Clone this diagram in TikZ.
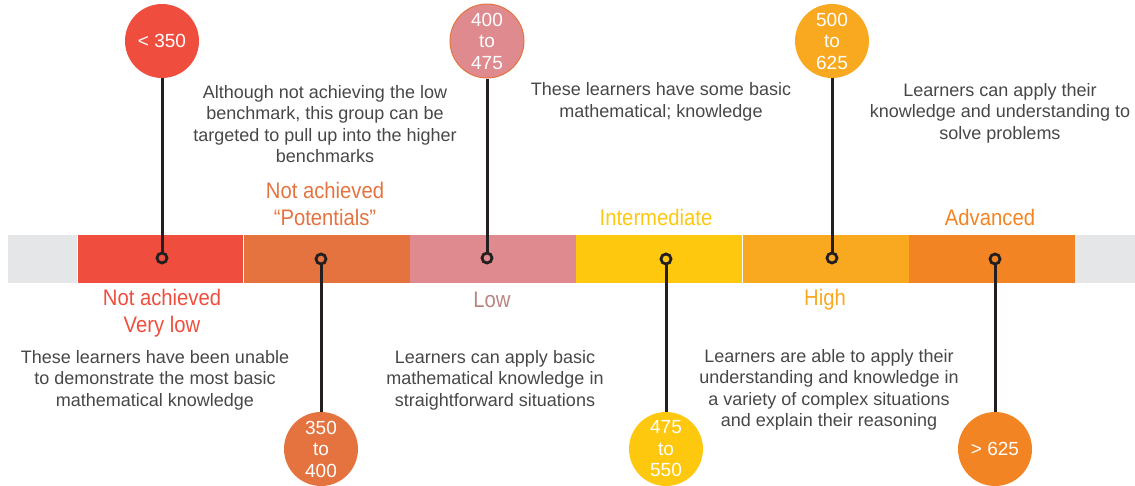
\documentclass[tikz,border=0pt]{standalone}
\usepackage{fontspec}
\setmainfont{Liberation Sans}
\newfontfamily\headfont[FakeStretch=0.9]{Liberation Sans}
\usetikzlibrary{positioning}

\definecolor{bandgrey}{HTML}{E5E6E8}
\definecolor{bandred}{HTML}{EF4E3F}
\definecolor{bandorange}{HTML}{E5733F}
\definecolor{bandpink}{HTML}{DF8A8E}
\definecolor{bandyellow}{HTML}{FEC80E}
\definecolor{bandamber}{HTML}{F9A91F}
\definecolor{bandtangerine}{HTML}{F38423}
\definecolor{lowtext}{HTML}{B98380}
\definecolor{bodytext}{HTML}{474747}
\definecolor{stemcol}{HTML}{231F20}

\begin{document}
\begin{tikzpicture}[x=1pt, y=-1pt,
        band/.style={rectangle, inner sep=0pt, outer sep=0pt, minimum height=48, minimum width=165.8},
        badge/.style={circle, inner sep=0pt, minimum size=74, text=white, align=center, font=\fontsize{19}{21.5}\selectfont},
        pin/.style={circle, draw=stemcol, line width=2.8, inner sep=0pt, minimum size=10},
        stem/.style={draw=stemcol, line width=3},
        level/.style={align=center, font=\headfont\fontsize{22.5}{27}\selectfont},
        note/.style={align=center, text=bodytext, font=\fontsize{18}{21.5}\selectfont}
    ]
        \useasboundingbox (0,0) rectangle (1135,485);
        % the score band
        \node[band, fill=bandgrey, minimum width=69, anchor=west] (greyL) at (8,259) {};
        \node[band, fill=bandred, right=0.5pt of greyL] (vlow) {};
        \node[band, fill=bandorange, right=0.5pt of vlow] (potent) {};
        \node[band, fill=bandpink, right=0.5pt of potent] (low) {};
        \node[band, fill=bandyellow, right=0.5pt of low] (inter) {};
        \node[band, fill=bandamber, right=0.5pt of inter] (high) {};
        \node[band, fill=bandtangerine, right=0.5pt of high] (adv) {};
        \node[band, fill=bandgrey, minimum width=62, right=0.5pt of adv] (greyR) {};

        % markers on the band
        \node[pin] (p1) at (162,258) {};
        \node[pin] (p2) at (321,259) {};
        \node[pin] (p3) at (487,258) {};
        \node[pin] (p4) at (666,259) {};
        \node[pin] (p5) at (832,258) {};
        \node[pin] (p6) at (995,259) {};

        % score ranges
        \node[badge, fill=bandred] (b1) at (162,41) {< 350};
        \node[badge, fill=bandorange] (b2) at (321,449) {350\\to\\400};
        \node[badge, fill=bandpink, draw=bandorange, line width=1] (b3) at (487,41) {400\\to\\475};
        \node[badge, fill=bandyellow] (b4) at (666,449) {475\\to\\550};
        \node[badge, fill=bandamber] (b5) at (832,41) {500\\to\\625};
        \node[badge, fill=bandtangerine] (b6) at (995,449) {> 625};
        \draw[stem] (b1) -- (p1);
        \draw[stem] (b2) -- (p2);
        \draw[stem] (b3) -- (p3);
        \draw[stem] (b4) -- (p4);
        \draw[stem] (b5) -- (p5);
        \draw[stem] (b6) -- (p6);

        % level names
        \node[level, text=bandred] (l1) at (162,313) {Not achieved\\Very low};
        \node[level, text=bandorange] (l2) at (325,204) {Not achieved\\“Potentials”};
        \node[level, text=lowtext] (l3) at (492,300) {Low};
        \node[level, text=bandyellow] (l4) at (656,217) {Intermediate};
        \node[level, text=bandamber] (l5) at (825,300) {High};
        \node[level, text=bandtangerine] (l6) at (990,217) {Advanced};

        % descriptions
        \node[note] (n1) at (155,380) {These learners have been unable\\to demonstrate the most basic\\mathematical knowledge};
        \node[note] (n2) at (325,124) {Although not achieving the low\\benchmark, this group can be\\targeted to pull up into the higher\\benchmarks};
        \node[note] (n3) at (495,380) {Learners can apply basic\\mathematical knowledge in\\straightforward situations};
        \node[note] (n4) at (661,102) {These learners have some basic\\mathematical; knowledge};
        \node[note] (n5) at (829,390) {Learners are able to apply their\\understanding and knowledge in\\a variety of complex situations\\and explain their reasoning};
        \node[note] (n6) at (1000,113) {Learners can apply their\\knowledge and understanding to\\solve problems};
    \end{tikzpicture}
\end{document}
